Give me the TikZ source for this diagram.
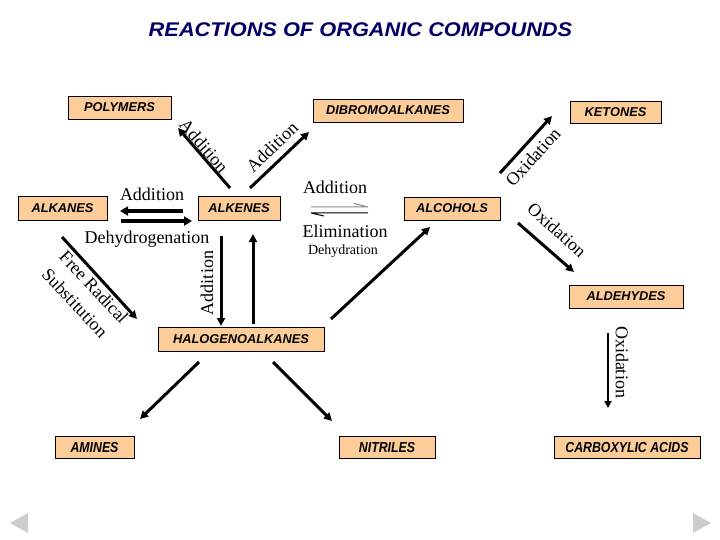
\documentclass[tikz,border=0pt]{standalone}
\usepackage{fontspec}
\setmainfont{Liberation Serif}
\newfontfamily\boxfont{Liberation Sans}
\newfontfamily\condfont[FakeStretch=0.85]{Liberation Sans}
\newfontfamily\titlefont[FakeStretch=1.1]{Liberation Sans}
\usetikzlibrary{arrows.meta}
\definecolor{peach}{RGB}{252,204,153}
\definecolor{navy}{RGB}{0,0,102}
\definecolor{navgray}{RGB}{205,205,205}
\definecolor{eqgray}{RGB}{140,140,140}
\begin{document}
\begin{tikzpicture}[x=1pt,y=-1pt,
 cbox/.style={draw=black, line width=0.8pt, fill=peach, inner sep=0pt,
   font=\boxfont\bfseries\itshape\fontsize{12.8}{14}\selectfont},
 cboxb/.style={cbox, font=\condfont\bfseries\itshape\fontsize{14.5}{16}\selectfont},
 rx/.style={line width=3pt, -{Triangle[length=8pt,width=8pt]}},
 rxx/.style={line width=4pt, -{Triangle[length=8pt,width=9pt]}},
 lbl/.style={font=\fontsize{18}{20}\selectfont, inner sep=0pt},
 ]
\useasboundingbox (0,0) rectangle (720,540);

% title
\node[font=\titlefont\bfseries\itshape\fontsize{19.8}{22}\selectfont, text=navy, inner sep=0pt]
  (title) at (360.5,30) {REACTIONS OF ORGANIC COMPOUNDS};

% boxes
\node[cbox, minimum width=103pt, minimum height=23pt] (poly) at (119.5,107.5) {POLYMERS};
\node[cbox, minimum width=150pt, minimum height=23pt] (dibromo) at (388,110.5) {DIBROMOALKANES};
\node[cbox, minimum width=91pt, minimum height=22pt] (ket) at (615.5,112) {KETONES};
\node[cbox, minimum width=89pt, minimum height=24pt] (alkanes) at (62.5,208) {ALKANES};
\node[cbox, minimum width=82pt, minimum height=24pt] (alkenes) at (239,208) {ALKENES};
\node[cbox, minimum width=96pt, minimum height=23pt] (alc) at (452,208.5) {ALCOHOLS};
\node[cbox, minimum width=114pt, minimum height=23pt] (ald) at (626,296.5) {ALDEHYDES};
\node[cbox, minimum width=166pt, minimum height=24pt] (halo) at (241,339) {HALOGENOALKANES};
\node[cboxb, minimum width=79pt, minimum height=22pt] (amines) at (94.5,447.5) {AMINES};
\node[cboxb, minimum width=96pt, minimum height=22pt] (nitr) at (387,447.5) {NITRILES};
\node[cboxb, minimum width=146pt, minimum height=22pt] (carb) at (627,447.5) {CARBOXYLIC ACIDS};

% arrow end points
\coordinate (a1s) at (230,188); \coordinate (a1e) at (178,128);
\coordinate (a2s) at (250,188); \coordinate (a2e) at (309,132);
\coordinate (a3s) at (183,211); \coordinate (a3e) at (120,211);
\coordinate (a4s) at (121,221); \coordinate (a4e) at (192,221);
\coordinate (a5s) at (62,237);  \coordinate (a5e) at (137,319);
\coordinate (a6s) at (221,236); \coordinate (a6e) at (221,326);
\coordinate (a7s) at (253,324); \coordinate (a7e) at (253,234);
\coordinate (a8s) at (331,319); \coordinate (a8e) at (430,227);
\coordinate (a9s) at (500,173); \coordinate (a9e) at (552,116);
\coordinate (b1s) at (518,223); \coordinate (b1e) at (574,272);
\coordinate (b2s) at (608,333); \coordinate (b2e) at (608,408);
\coordinate (b3s) at (199,362); \coordinate (b3e) at (140,419);
\coordinate (b4s) at (273,362); \coordinate (b4e) at (332,421);

\draw[rx] (a1s) -- (a1e);
\draw[rx] (a2s) -- (a2e);
\draw[rxx] (a3s) -- (a3e);
\draw[rxx] (a4s) -- (a4e);
\draw[rx] (a5s) -- (a5e);
\draw[rx] (a6s) -- (a6e);
\draw[rx] (a7s) -- (a7e);
\draw[rx] (a8s) -- (a8e);
\draw[rx] (a9s) -- (a9e);
\draw[rx] (b1s) -- (b1e);
\draw[line width=2.5pt, -{Triangle[length=7pt,width=7pt]}] (b2s) -- (b2e);
\draw[rx] (b3s) -- (b3e);
\draw[rx] (b4s) -- (b4e);

% equilibrium harpoons
\coordinate (e1) at (311,207); \coordinate (e2) at (368,207);
\coordinate (e3) at (311,213); \coordinate (e4) at (368,213);
\draw[eqgray, line width=1pt] (e1) -- (e2) (e2) -- (354,203.5);
\draw[black, line width=1pt] (e3) -- (e4) (e3) -- (324,216);

% labels
\node[lbl] at (152,194.5) {Addition};
\node[lbl] at (147,239) {Dehydrogenation};
\node[lbl, rotate=90] at (207,283) {Addition};
\node[lbl, rotate=-47] at (94,287) {Free Radical};
\node[lbl, rotate=-47] at (75,303) {Substitution};
\node[lbl, rotate=-49] at (204,146) {Addition};
\node[lbl, rotate=44] at (272,147) {Addition};
\node[lbl] at (335,187) {Addition};
\node[lbl] at (345,231) {Elimination};
\node[lbl, font=\fontsize{14}{16}\selectfont] at (343,251) {Dehydration};
\node[lbl, rotate=48] at (533,157) {Oxidation};
\node[lbl, rotate=-42] at (557,230) {Oxidation};
\node[lbl, rotate=-90] at (622,362) {Oxidation};

% navigation triangles
\fill[navgray] (28,513) -- (28,533) -- (10,523) -- cycle;
\fill[navgray] (693,513) -- (693,533) -- (711,523) -- cycle;
\end{tikzpicture}
\end{document}
